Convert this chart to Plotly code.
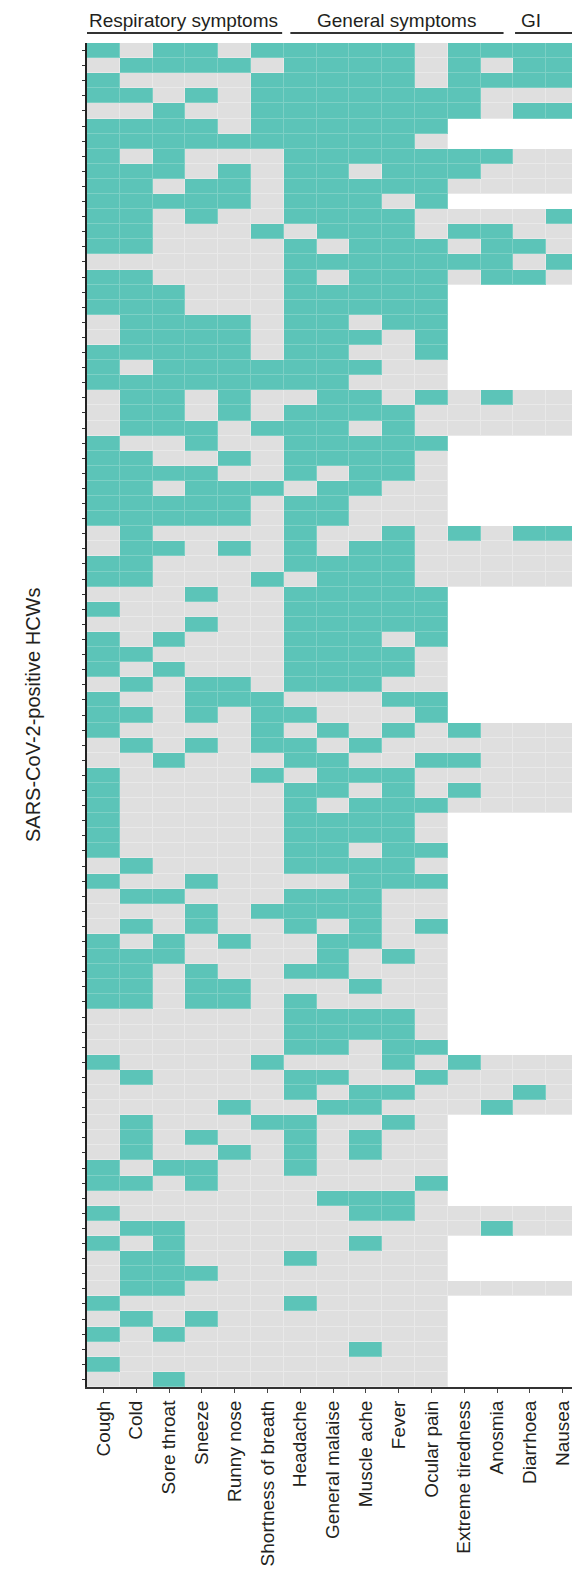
import plotly.graph_objects as go

symptoms = ["Cough", "Cold", "Sore throat", "Sneeze", "Runny nose", "Shortness of breath",
            "Headache", "General malaise", "Muscle ache", "Fever", "Ocular pain",
            "Extreme tiredness", "Anosmia", "Diarrhoea", "Nausea"]

# 1 = symptom reported, 0 = not reported, . = not asked / missing
resp_rows = [
    "101101", "011110", "100001", "110101", "001001", "111101", "111111", "101000", "111010", "110110",
    "111110", "110100", "110001", "110000", "000000", "110000", "111000", "111000", "011110", "011110",
    "111110", "101111", "111111", "011010", "011010", "011101", "100100", "110010", "111100", "110111",
    "111110", "111110", "010000", "011010", "110000", "110001", "000100", "100000", "000100", "101000",
    "110000", "101000", "010110", "100111", "110101", "100001", "010101", "001000", "100001", "100000",
    "100000", "100000", "100000", "100000", "010000", "100100", "011000", "000101", "010100", "101010",
    "111000", "110100", "110110", "110110", "000000", "000000", "000000", "100001", "010000", "000000",
    "000010", "010001", "010100", "010010", "101100", "110100", "000000", "100000", "011000", "101000",
    "011000", "011100", "011000", "100000", "010100", "101000", "000000", "100000", "001000",
]
general_rows = [
    "1111011", "1111010", "1111011", "1111110", "1111110", "11111..", "11110..", "1111111", "1101110", "1111100",
    "11101..", "1111000", "0111011", "1011101", "1111111", "1011101", "11111..", "11111..", "11011..", "11101..",
    "11001..", "11100..", "11000..", "0110101", "1111000", "1101000", "11111..", "11110..", "10110..", "01100..",
    "11000..", "11000..", "1001010", "1011000", "1111000", "0111000", "11111..", "11111..", "11111..", "11101..",
    "11110..", "11110..", "11100..", "00011..", "10001..", "0101010", "1010000", "1100110", "0111000", "1101010",
    "1011100", "11110..", "11110..", "11011..", "11110..", "00111..", "11100..", "11100..", "10101..", "01100..",
    "01010..", "11000..", "00100..", "10000..", "11110..", "11110..", "11011..", "0001010", "1100100", "1011000",
    "0110001", "10010..", "10100..", "10100..", "10000..", "00001..", "01110..", "0011000", "0000001", "00100..",
    "10000..", "00000..", "0000000", "10000..", "00000..", "00000..", "00100..", "00000..", "00000..",
]
gi_rows = [
    "11", "11", "11", "00", "11", "..", "..", "00", "00", "00",
    "..", "01", "00", "10", "01", "10", "..", "..", "..", "..",
    "..", "..", "..", "00", "00", "00", "..", "..", "..", "..",
    "..", "..", "11", "00", "00", "00", "..", "..", "..", "..",
    "..", "..", "..", "..", "..", "00", "00", "00", "00", "00",
    "00", "..", "..", "..", "..", "..", "..", "..", "..", "..",
    "..", "..", "..", "..", "..", "..", "..", "00", "00", "10",
    "00", "..", "..", "..", "..", "..", "..", "00", "00", "..",
    "..", "..", "00", "..", "..", "..", "..", "..", "..",
]

groups = [("Respiratory symptoms", 0, 5), ("General symptoms", 6, 12), ("GI", 13, 14)]

TEAL = "#5cc4b8"
GREY = "#dfdfdf"
TEAL_LINE = "#7dd0c5"
GREY_LINE = "#e9e9e9"
FONT = "Liberation Sans, Arial, sans-serif"


def parse(ch):
    return None if ch == "." else int(ch)


z = [[parse(c) for c in (r + g + d)] for r, g, d in zip(resp_rows, general_rows, gi_rows)]
rows = list(range(len(z)))

fig = go.Figure()
# underlay: provides the faint lighter lines between cells
fig.add_trace(go.Heatmap(z=z, x=symptoms, y=rows, zmin=0, zmax=1,
                         colorscale=[[0, GREY_LINE], [1, TEAL_LINE]], showscale=False,
                         hoverinfo="skip"))
fig.add_trace(go.Heatmap(z=z, x=symptoms, y=rows, zmin=0, zmax=1,
                         colorscale=[[0, GREY], [1, TEAL]], showscale=False,
                         xgap=1, ygap=1))

fig.update_xaxes(type="category", range=[-0.5, len(symptoms) - 0.5], tickangle=-90,
                 ticks="outside", ticklen=4, tickwidth=1.2, tickcolor="#444",
                 showline=True, linecolor="#333", linewidth=2, showgrid=False, automargin=False,
                 tickfont=dict(family=FONT, size=19, color="#231f20"), fixedrange=True)
fig.update_yaxes(range=[len(z) - 0.5, -0.5], tickvals=rows, showticklabels=False,
                 ticks="outside", ticklen=3, tickwidth=1, tickcolor="#333", automargin=False,
                 showline=True, linecolor="#222", linewidth=2, showgrid=False, zeroline=False,
                 fixedrange=True)

annotations = [dict(text="SARS-CoV-2-positive HCWs", textangle=-90, x=0, xref="paper",
                    xanchor="center", xshift=-54, y=0.5, yref="paper", yanchor="middle",
                    showarrow=False, font=dict(family=FONT, size=20, color="#231f20"))]
shapes = []
line_spans = {"Respiratory symptoms": (-0.5, 5.45), "General symptoms": (5.7, 12.2), "GI": (12.55, 14.4)}
text_pos = {"Respiratory symptoms": 2.45, "General symptoms": 8.95, "GI": 13.05}
for name, a, b in groups:
    x0, x1 = line_spans[name]
    shapes.append(dict(type="line", xref="x", x0=x0, x1=x1, yref="paper", ysizemode="pixel",
                       yanchor=1, y0=10, y1=10, line=dict(color="#333", width=2)))
    annotations.append(dict(text=name, x=text_pos[name], xref="x", xanchor="center",
                            y=1, yref="paper", yanchor="middle", yshift=23, showarrow=False,
                            font=dict(family=FONT, size=19, color="#231f20")))

# the page body adds an 8 px offset; size the figure so it fills the 580x1574 window
fig.update_layout(width=572, height=1566, margin=dict(l=79, r=1, t=35, b=187, autoexpand=False),
                  paper_bgcolor="white", plot_bgcolor="white",
                  annotations=annotations, shapes=shapes, showlegend=False)

fig.write_html("out.html")
